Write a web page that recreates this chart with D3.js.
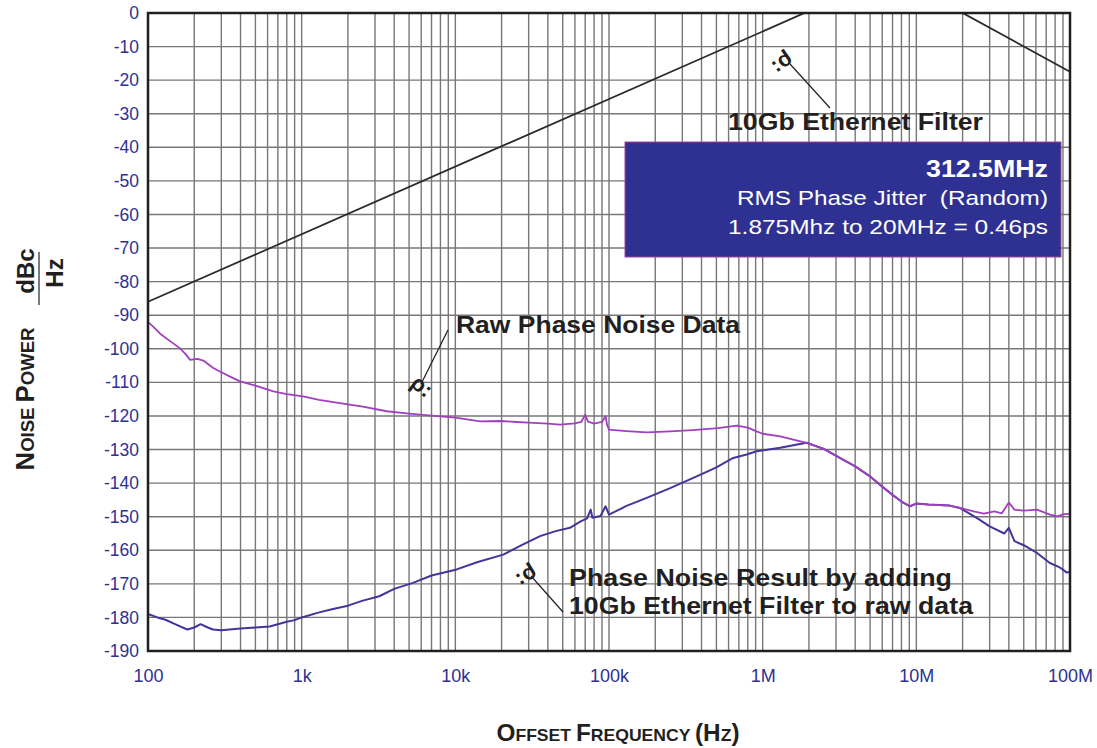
<!DOCTYPE html>
<html>
<head>
<meta charset="utf-8">
<script src="https://cdn.jsdelivr.net/npm/d3@7"></script>
<style>
  html, body { margin: 0; padding: 0; background: #ffffff; }
  svg { display: block; }
  text { font-family: "Liberation Sans", Arial, Helvetica, sans-serif; }
</style>
</head>
<body>
<svg id="chart" width="1097" height="748"></svg>
<script>
// ---------- data ----------
const xTickValues = [1e2, 1e3, 1e4, 1e5, 1e6, 1e7, 1e8];
const xTickLabels = ["100", "1k", "10k", "100k", "1M", "10M", "100M"];
const yTickValues = [0, -10, -20, -30, -40, -50, -60, -70, -80, -90, -100, -110, -120, -130, -140, -150, -160, -170, -180, -190];
const yTickLabels = ["0", "-10", "-20", "-30", "-40", "-50", "-60", "-70", "-80", "-90", "-100", "-110", "-120", "-130", "-140", "-150", "-160", "-170", "-180", "-190"];
const minorMultipliers = [2, 3, 4, 5, 6, 7, 8, 9];

const filterFreq = [100, 1.875e6, 20e6, 100e6];
const filterDb   = [-86, 0, 0, -17.5];

const rawFreq = [100, 108, 120, 140, 161, 175, 188, 210, 229, 266, 300, 350, 397, 500, 654, 800, 1020, 1300, 1770, 2500, 3580, 5000, 7000, 10000, 14500, 20000, 25000, 30000, 40000, 48000, 60000, 66000, 70000, 73000, 80000, 90000, 95000, 97000, 100000, 130000, 176000, 250000, 350000, 510000, 680000, 800000, 913000, 1e6, 1.3e6, 1.93e6, 2.5e6, 3.18e6, 4e6, 5e6, 5.8e6, 7e6, 8e6, 9.1e6, 10e6, 12e6, 16.5e6, 19.2e6, 24e6, 27.5e6, 32.2e6, 36e6, 40e6, 43.5e6, 50e6, 61e6, 74e6, 83e6, 90e6, 100e6];
const rawDb   = [-92, -93.4, -95.5, -97.8, -99.8, -101.5, -103.3, -103, -103.5, -105.7, -107, -108.5, -109.7, -111, -112.7, -113.5, -114.2, -115.2, -116.2, -117.2, -118.6, -119.3, -119.9, -120.5, -121.6, -121.5, -121.8, -122, -122.3, -122.6, -122.2, -121.8, -119.6, -121.7, -122.3, -121.8, -120.1, -122.5, -124.1, -124.5, -124.9, -124.6, -124.2, -123.6, -122.9, -123.5, -124.6, -125.3, -126.1, -128, -129.8, -132.5, -135, -138, -140.5, -143.5, -145.5, -146.9, -146.1, -146.4, -146.7, -147.4, -148.5, -149.1, -148.4, -149, -145.8, -147.9, -148.2, -147.9, -149.4, -149.9, -149.3, -149.1];

const resFreq = [100, 115, 130, 150, 180, 200, 220, 245, 265, 300, 400, 500, 620, 800, 900, 1000, 1300, 1600, 2000, 2500, 3200, 4000, 5300, 7000, 10200, 14000, 20500, 27000, 35600, 45000, 55700, 65000, 72000, 76000, 78000, 88000, 95000, 100000, 130000, 176000, 250000, 372000, 500000, 643000, 787000, 913000, 1.3e6, 1.93e6, 2.5e6, 3.18e6, 4e6, 5e6, 5.8e6, 7e6, 8e6, 9.1e6, 10e6, 12e6, 16.5e6, 19.2e6, 25e6, 30e6, 37.4e6, 40e6, 43.5e6, 50e6, 61e6, 74e6, 85e6, 95e6, 100e6];
const resDb   = [-179, -180, -180.7, -182, -183.6, -183, -182, -183, -183.6, -183.8, -183.3, -183, -182.7, -181.3, -180.8, -180, -178.5, -177.5, -176.5, -175, -173.7, -171.5, -169.7, -167.5, -165.7, -163.5, -161.3, -158.5, -155.8, -154.3, -153.3, -151.5, -150.5, -147.9, -150.3, -149.8, -146.9, -149.4, -146.8, -144.4, -141.5, -138, -135.3, -132.5, -131.5, -130.5, -129.5, -128, -129.8, -132.5, -135, -138, -140.5, -143.5, -145.5, -146.9, -146.1, -146.4, -146.7, -147.4, -150.5, -152.9, -155, -153.3, -157.3, -158.5, -160.8, -163.8, -165, -166.6, -166.5];

// ---------- layout ----------
const svg = d3.select("#chart");
const L = 148, R = 1070, T = 13, B = 651;
const x = d3.scaleLog().domain([1e2, 1e8]).range([L, R]);
const y = d3.scaleLinear().domain([-190, 0]).range([B, T]);
const tickColor = "#2e3192";

// grid
const grid = svg.append("g").attr("stroke", "#777777").attr("stroke-width", 1.4).attr("fill", "none");
const minorTicks = [];
xTickValues.slice(0, -1).forEach(d => minorMultipliers.forEach(m => minorTicks.push(d * m)));
grid.selectAll("line.v").data(xTickValues.concat(minorTicks)).join("line")
  .attr("x1", d => x(d)).attr("x2", d => x(d)).attr("y1", T).attr("y2", B);
grid.selectAll("line.h").data(yTickValues).join("line")
  .attr("x1", L).attr("x2", R).attr("y1", d => y(d)).attr("y2", d => y(d));

// axes labels (via d3 axes, domain & tick lines hidden)
const xAxis = d3.axisBottom(x).tickValues(xTickValues).tickFormat((d, i) => xTickLabels[i]).tickSize(0).tickPadding(18);
const gx = svg.append("g").attr("transform", `translate(0,${B})`).call(xAxis);
gx.select(".domain").remove();
gx.selectAll("text").attr("font-size", 18).attr("fill", tickColor).attr("font-family", "Liberation Sans, Arial, sans-serif");

const yAxis = d3.axisLeft(y).tickValues(yTickValues).tickFormat((d, i) => yTickLabels[i]).tickSize(0).tickPadding(9);
const gy = svg.append("g").attr("transform", `translate(${L},0)`).call(yAxis);
gy.select(".domain").remove();
gy.selectAll("text").attr("font-size", 17.5).attr("fill", tickColor).attr("font-family", "Liberation Sans, Arial, sans-serif");

// series
const line = d3.line().x(d => x(d[0])).y(d => y(d[1]));
const zip = (a, b) => a.map((v, i) => [v, b[i]]);

svg.append("path").datum(zip(filterFreq, filterDb)).attr("d", line)
  .attr("fill", "none").attr("stroke", "#2a2a2a").attr("stroke-width", 1.8);
svg.append("path").datum(zip(resFreq, resDb)).attr("d", line)
  .attr("fill", "none").attr("stroke", "#45349a").attr("stroke-width", 2).attr("stroke-linejoin", "round");
svg.append("path").datum(zip(rawFreq, rawDb)).attr("d", line)
  .attr("fill", "none").attr("stroke", "#a23fbf").attr("stroke-width", 1.8).attr("stroke-linejoin", "round");

// frame
svg.append("rect").attr("x", L).attr("y", T).attr("width", R - L).attr("height", B - T)
  .attr("fill", "none").attr("stroke", "#231f20").attr("stroke-width", 2.5);

// info box
svg.append("rect").attr("x", 625).attr("y", 142).attr("width", 436).attr("height", 115)
  .attr("fill", "#2e3192").attr("stroke", "#a0449a").attr("stroke-width", 1);
const boxText = [
  {t: "312.5MHz", y: 177, w: "bold", s: 23, len: 122},
  {t: "RMS Phase Jitter  (Random)", y: 205, w: "normal", s: 21, len: 311},
  {t: "1.875Mhz to 20MHz = 0.46ps", y: 234, w: "normal", s: 21, len: 320}
];
svg.selectAll("text.box").data(boxText).join("text")
  .attr("x", 1048).attr("y", d => d.y).attr("text-anchor", "end")
  .attr("font-size", d => d.s).attr("font-weight", d => d.w).attr("fill", "#ffffff")
  .attr("textLength", d => d.len).attr("lengthAdjust", "spacingAndGlyphs")
  .style("white-space", "pre").text(d => d.t);

// annotations
const notes = [
  {t: "10Gb Ethernet Filter", x: 728, y: 130, len: 255},
  {t: "Raw Phase Noise Data", x: 456, y: 333, len: 284},
  {t: "Phase Noise Result by adding", x: 569, y: 586, len: 383},
  {t: "10Gb Ethernet Filter to raw data", x: 569, y: 614, len: 404}
];
svg.selectAll("text.note").data(notes).join("text")
  .attr("x", d => d.x).attr("y", d => d.y)
  .attr("font-size", 24).attr("font-weight", "bold").attr("fill", "#231f20")
  .attr("textLength", d => d.len).attr("lengthAdjust", "spacingAndGlyphs")
  .text(d => d.t);

const leaders = [
  {x1: 790, y1: 64, x2: 830, y2: 108},
  {x1: 421, y1: 384, x2: 448, y2: 330},
  {x1: 531, y1: 576, x2: 563, y2: 612}
];
svg.selectAll("line.leader").data(leaders).join("line")
  .attr("x1", d => d.x1).attr("y1", d => d.y1).attr("x2", d => d.x2).attr("y2", d => d.y2)
  .attr("stroke", "#231f20").attr("stroke-width", 1.2);

const markers = [
  {x: 783, y: 64, a: 145},
  {x: 422, y: 386, a: 37},
  {x: 527, y: 577, a: 148}
];
svg.selectAll("text.marker").data(markers).join("text")
  .attr("transform", d => `translate(${d.x},${d.y}) rotate(${d.a})`)
  .attr("text-anchor", "middle").attr("dominant-baseline", "central")
  .attr("font-family", "DejaVu Sans").attr("font-weight", "bold").attr("font-size", 22)
  .attr("fill", "#231f20").text("ρ:");

// axis titles
const xt = svg.append("text").attr("x", 618).attr("y", 741).attr("text-anchor", "middle")
  .attr("font-weight", "bold").attr("fill", "#231f20").attr("textLength", 243).attr("lengthAdjust", "spacingAndGlyphs");
[["O",23.5],["FFSET ",17],["F",23.5],["REQUENCY ",17],["(H",23.5],["Z",17],[")",23.5]].forEach(p =>
  xt.append("tspan").attr("font-size", p[1]).style("white-space", "pre").text(p[0]));

const yt = svg.append("text").attr("transform", "translate(34,399) rotate(-90)").attr("text-anchor", "middle")
  .attr("font-weight", "bold").attr("fill", "#231f20").attr("textLength", 143).attr("lengthAdjust", "spacingAndGlyphs");
[["N",25],["OISE ",18],["P",25],["OWER",18]].forEach(p =>
  yt.append("tspan").attr("font-size", p[1]).style("white-space", "pre").text(p[0]));

svg.append("text").attr("transform", "translate(34,271) rotate(-90)").attr("text-anchor", "middle")
  .attr("font-weight", "bold").attr("font-size", 24).attr("fill", "#231f20").text("dBc");
svg.append("line").attr("x1", 39).attr("x2", 39).attr("y1", 252).attr("y2", 305)
  .attr("stroke", "#231f20").attr("stroke-width", 1.2);
svg.append("text").attr("transform", "translate(63,273) rotate(-90)").attr("text-anchor", "middle")
  .attr("font-weight", "bold").attr("font-size", 24).attr("fill", "#231f20").text("Hz");
</script>
</body>
</html>
